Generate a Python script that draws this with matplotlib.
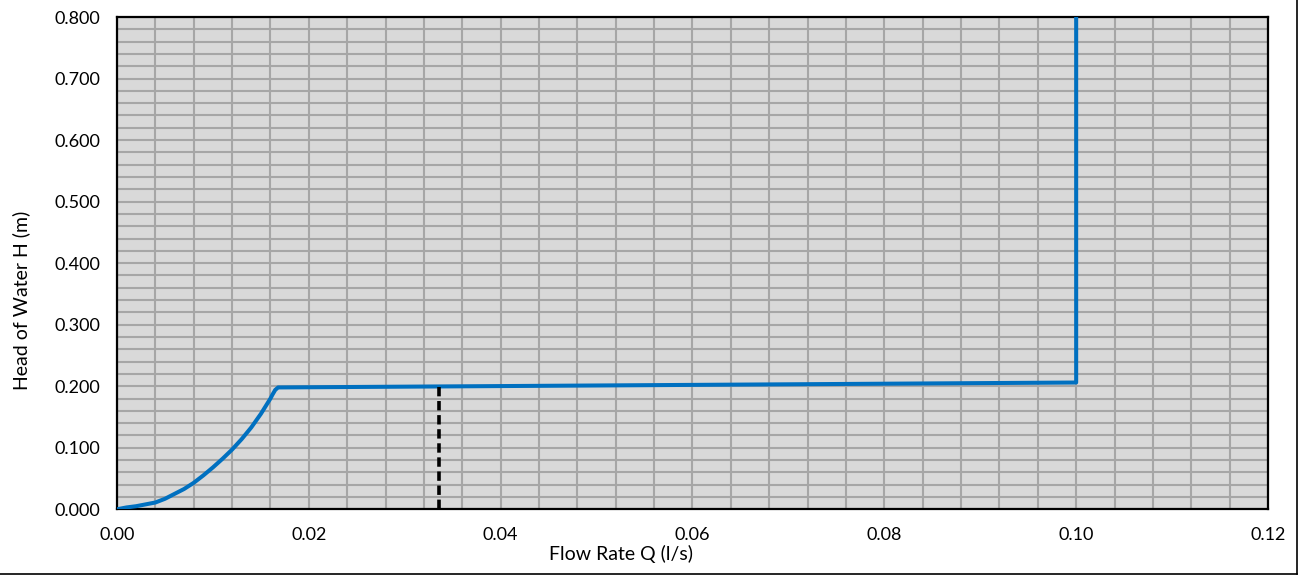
import numpy as np
import matplotlib.pyplot as plt
from matplotlib.ticker import MultipleLocator, FormatStrFormatter
from matplotlib.lines import Line2D

# data
flow_q = [0.0, 0.001, 0.002, 0.003, 0.004, 0.005, 0.006, 0.007, 0.008, 0.009, 0.010,
          0.011, 0.012, 0.013, 0.014, 0.015, 0.016, 0.0162, 0.0165, 0.0168, 0.100, 0.100]
head_h = [0.0, 0.003, 0.005, 0.008, 0.011, 0.017, 0.025, 0.033, 0.043, 0.055, 0.068,
          0.082, 0.097, 0.114, 0.133, 0.155, 0.180, 0.186, 0.194, 0.198, 0.206, 0.800]

design_q = [0.0336, 0.0336]
design_h = [0.0, 0.199]

x_ticks = [0.00, 0.02, 0.04, 0.06, 0.08, 0.10, 0.12]
y_ticks = [0.0, 0.1, 0.2, 0.3, 0.4, 0.5, 0.6, 0.7, 0.8]

plt.rcParams['font.family'] = ['Lato', 'DejaVu Sans']

fig = plt.figure(figsize=(13.04, 5.75), dpi=100)
ax = fig.add_axes([0.0897, 0.1143, 0.8827, 0.8561])
ax.set_facecolor("#d9d9d9")

ax.plot(flow_q, head_h, color="#0070c0", linewidth=2.9, zorder=3,
        solid_joinstyle="round", solid_capstyle="round")
ax.plot(design_q, design_h, color="black", linewidth=2.6, linestyle=(0, (2.6, 1.3)), zorder=3)

ax.set_xlim(0, 0.12)
ax.set_ylim(0, 0.8)
ax.set_xticks(x_ticks)
ax.set_yticks(y_ticks)
ax.xaxis.set_major_formatter(FormatStrFormatter("%.2f"))
ax.yaxis.set_major_formatter(FormatStrFormatter("%.3f"))
ax.xaxis.set_minor_locator(MultipleLocator(0.004))
ax.yaxis.set_minor_locator(MultipleLocator(0.02))
ax.grid(which="both", color="#a6a6a6", linewidth=1.5, zorder=1)
ax.set_axisbelow(True)
ax.tick_params(which="both", length=0, labelsize=13)
ax.tick_params(axis="x", pad=13)
ax.tick_params(axis="y", pad=12)

for s in ax.spines.values():
    s.set_linewidth(1.6)
    s.set_color("black")

fig.text(0.476, 0.026, "Flow Rate Q (l/s)", fontsize=14, ha="center", va="baseline")
fig.text(0.016, 0.477, "Head of Water H (m)", fontsize=14, ha="center", va="center", rotation=90)

# outer frame
fig.add_artist(Line2D([0.995, 0.995], [0.002, 1.0], transform=fig.transFigure, color="black", linewidth=1.2))
fig.add_artist(Line2D([0.0, 0.995], [0.002, 0.002], transform=fig.transFigure, color="black", linewidth=1.2))

fig.savefig("out.png", dpi=100)
